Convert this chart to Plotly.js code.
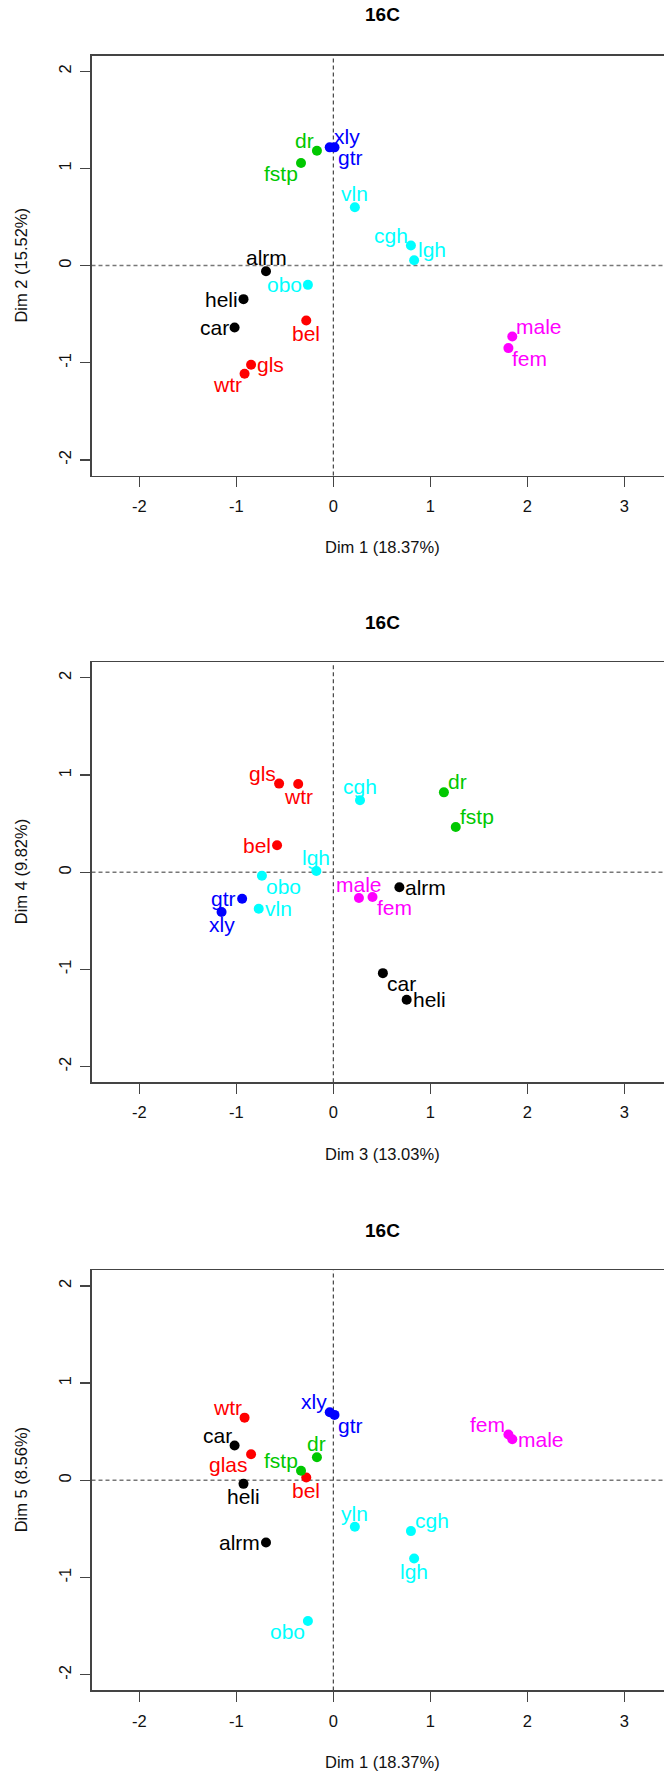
<!DOCTYPE html>
<html>
<head>
<meta charset="utf-8">
<script src="https://cdn.plot.ly/plotly-3.0.1.min.js"></script>
<style>
html,body{margin:0;padding:0;background:#fff;overflow:hidden;}
#chart{width:664px;height:1773px;}
</style>
</head>
<body>
<div id="chart"></div>
<script>
// ---- data ----
const names   = ["alrm","car","heli","bel","gls","wtr","dr","fstp","gtr","xly","cgh","lgh","obo","vln","male","fem"];
const labels3 = ["alrm","car","heli","bel","glas","wtr","dr","fstp","gtr","xly","cgh","lgh","obo","yln","male","fem"];
const groupColors = ["black","black","black","red","red","red","#00C800","#00C800","blue","blue","cyan","cyan","cyan","cyan","magenta","magenta"];

const dim1 = [-0.694,-1.018,-0.926,-0.279,-0.848,-0.915,-0.169,-0.333, 0.012,-0.037, 0.800, 0.833,-0.262, 0.222, 1.845, 1.805];
const dim2 = [-0.058,-0.637,-0.345,-0.565,-1.020,-1.113, 1.182, 1.055, 1.217, 1.217, 0.206, 0.055,-0.198, 0.600,-0.730,-0.849];
const dim3 = [ 0.681, 0.511, 0.756,-0.580,-0.559,-0.362, 1.140, 1.262,-0.940,-1.152, 0.275,-0.175,-0.736,-0.769, 0.264, 0.404];
const dim4 = [-0.154,-1.038,-1.311, 0.278, 0.912, 0.908, 0.822, 0.466,-0.272,-0.409, 0.740, 0.013,-0.036,-0.376,-0.265,-0.255];
const dim5 = [-0.639, 0.358,-0.036, 0.029, 0.269, 0.645, 0.238, 0.098, 0.673, 0.700,-0.522,-0.804,-1.447,-0.478, 0.423, 0.471];

const panelTitle = "16C";
const xTitles = ["Dim 1 (18.37%)","Dim 3 (13.03%)","Dim 1 (18.37%)"];
const yTitles = ["Dim 2 (15.52%)","Dim 4 (9.82%)","Dim 5 (8.56%)"];
const xTickVals = [-2,-1,0,1,2,3];
const xTickText = ["-2","-1","0","1","2","3"];
const yTickVals = [-2,-1,0,1,2];
const yTickText = ["-2","-1","0","1","2"];

// label placement (style)
const pos1 = ["top center","middle left","middle left","bottom center","middle right","bottom left","top left","bottom left","bottom right","top right","top left","top right","middle left","top center","top right","bottom right"];
const pos2 = ["middle right","bottom right","middle right","middle left","top left","bottom center","top right","top right","middle left","bottom center","top center","top center","bottom right","middle right","top center","bottom right"];
const pos3 = ["middle left","top left","bottom center","bottom center","bottom left","top left","top center","top left","bottom right","top left","top right","bottom center","bottom left","top center","middle right","top left"];

// ---- layout geometry (pixels) ----
const W = 664, H = 1773;
const FONT = "Liberation Sans, Arial, Helvetica, sans-serif";
const LABEL_SIZE = 21;
const plotLeft = 91.5;
const panels = [
  {top:55.7,  bottom:475.5,  title:15,    xt:546.7},
  {top:662.3, bottom:1082.2, title:622.3, xt:1154},
  {top:1270.3,bottom:1690.4, title:1230,  xt:1761.5}
];
const centerX = 382;

const series = [
  {x:dim1, y:dim2, text:names,   pos:pos1},
  {x:dim3, y:dim4, text:names,   pos:pos2},
  {x:dim1, y:dim5, text:labels3, pos:pos3}
];

// map a position keyword to annotation anchoring
function placement(p){
  const [v,h] = p.split(" ");
  const diag = (v!=="middle" && h!=="center");
  const o = {};
  if(h==="left"){o.xanchor="right"; o.xshift = diag? -2 : -5;}
  else if(h==="right"){o.xanchor="left"; o.xshift = diag? 3 : 5;}
  else {o.xanchor="center"; o.xshift=0;}
  if(v==="top"){o.yanchor="bottom"; o.yshift = diag? -2 : 1;}
  else if(v==="bottom"){o.yanchor="top"; o.yshift = diag? 2 : 0;}
  else {o.yanchor="middle"; o.yshift=0;}
  return o;
}

const traces = [];
const layout = {
  width:W, height:H,
  margin:{l:0,r:0,t:0,b:0},
  paper_bgcolor:"#fff", plot_bgcolor:"#fff",
  showlegend:false,
  font:{family:FONT, color:"#000"},
  annotations:[], shapes:[]
};

series.forEach((s,i)=>{
  const n = i===0 ? "" : String(i+1);
  const P = panels[i];
  traces.push({
    type:"scatter", mode:"markers",
    x:s.x, y:s.y, text:s.text,
    xaxis:"x"+n, yaxis:"y"+n,
    marker:{color:groupColors, size:10, line:{width:0}},
    cliponaxis:false, hoverinfo:"skip"
  });
  s.text.forEach((t,k)=>{
    layout.annotations.push(Object.assign({
      xref:"x"+n, yref:"y"+n, x:s.x[k], y:s.y[k],
      text:t, showarrow:false, borderpad:0,
      font:{family:FONT, size:LABEL_SIZE, color:groupColors[k]}
    }, placement(s.pos[k])));
  });
  const axCommon = {
    showgrid:false, zeroline:false, showline:true,
    linecolor:"#444", linewidth:1.3,
    ticks:"outside", ticklen:10, tickwidth:1.3, tickcolor:"#444",
    tickfont:{family:FONT, size:16.5, color:"#111"}
  };
  layout["xaxis"+n] = Object.assign({}, axCommon, {
    domain:[plotLeft/W, 1], range:[-2.493, 3.409],
    anchor:"y"+n, mirror:true, ticklabelstandoff:5,
    tickmode:"array", tickvals:xTickVals, ticktext:xTickText
  });
  layout["yaxis"+n] = Object.assign({}, axCommon, {
    domain:[1-P.bottom/H, 1-P.top/H], range:[-2.16, 2.16],
    anchor:"x"+n, tickangle:-90, ticklabelstandoff:3,
    tickmode:"array", tickvals:yTickVals, ticktext:yTickText
  });
  // dashed reference lines
  layout.shapes.push({type:"line", xref:"x"+n+" domain", yref:"y"+n, x0:0, x1:1, y0:0, y1:0,
    line:{color:"#777", width:1.5, dash:"4px,3px"}, layer:"below"});
  layout.shapes.push({type:"line", xref:"x"+n, yref:"y"+n+" domain", x0:0, x1:0, y0:0, y1:1,
    line:{color:"#333", width:1.1, dash:"4px,3px"}, layer:"below"});
  // titles
  layout.annotations.push({xref:"paper", yref:"paper", x:centerX/W, y:1-P.title/H,
    xanchor:"center", yanchor:"middle", showarrow:false,
    text:"<b>"+panelTitle+"</b>", font:{family:FONT, size:19, color:"#000"}});
  layout.annotations.push({xref:"paper", yref:"paper", x:centerX/W, y:1-P.xt/H,
    xanchor:"center", yanchor:"middle", showarrow:false,
    text:xTitles[i], font:{family:FONT, size:16.5, color:"#111"}});
  layout.annotations.push({xref:"paper", yref:"paper", x:21/W, y:1-((P.top+P.bottom)/2)/H,
    xanchor:"center", yanchor:"middle", showarrow:false, textangle:-90,
    text:yTitles[i], font:{family:FONT, size:16.5, color:"#111"}});
});

Plotly.newPlot("chart", traces, layout, {staticPlot:true, displayModeBar:false});
</script>
</body>
</html>
